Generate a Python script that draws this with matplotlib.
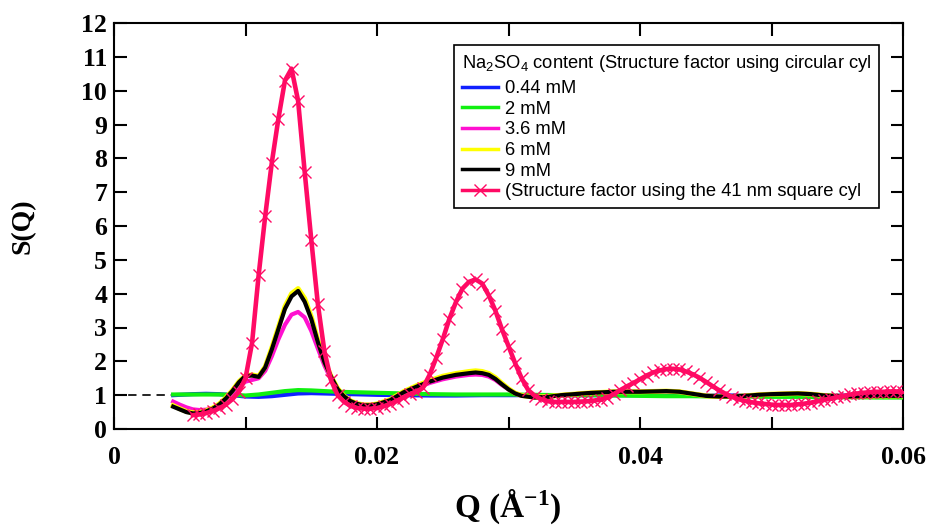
import matplotlib
matplotlib.use("Agg")
import matplotlib.pyplot as plt
import numpy as np

# ---------------- data ----------------
q_bg = [0.0045, 0.005, 0.006, 0.007, 0.008, 0.009, 0.010, 0.011, 0.012, 0.013,
        0.014, 0.015, 0.016, 0.017, 0.018, 0.019, 0.020, 0.022, 0.024, 0.026,
        0.028, 0.030, 0.032, 0.034, 0.036, 0.038, 0.040, 0.042, 0.044, 0.046,
        0.048, 0.050, 0.052, 0.054, 0.056, 0.058, 0.060]
s_044 = [1.00, 1.01, 1.03, 1.04, 1.03, 1.00, 0.96, 0.95, 0.97, 1.01,
         1.05, 1.06, 1.05, 1.04, 1.03, 1.02, 1.01, 1.00, 0.99, 0.99,
         1.00, 1.00, 1.00, 1.00, 1.00, 1.00, 1.00, 0.99, 0.99, 0.99,
         0.99, 0.99, 0.99, 0.99, 0.99, 0.99, 0.99]
s_2 = [1.02, 1.02, 1.02, 1.02, 1.02, 1.01, 0.99, 1.02, 1.07, 1.12,
       1.15, 1.14, 1.12, 1.10, 1.09, 1.08, 1.07, 1.05, 1.03, 1.02,
       1.02, 1.02, 1.01, 1.00, 1.00, 0.99, 0.98, 0.97, 0.97, 0.96,
       0.96, 0.95, 0.95, 0.94, 0.94, 0.93, 0.93]

q_exp = [0.0045, 0.0050, 0.0055, 0.0060, 0.0065, 0.0070, 0.0075, 0.0080, 0.0085, 0.0090,
         0.0095, 0.0100, 0.0105, 0.0110, 0.0115, 0.0120, 0.0125, 0.0130, 0.0135, 0.0140,
         0.0145, 0.0150, 0.0155, 0.0160, 0.0165, 0.0170, 0.0175, 0.0180, 0.0185, 0.0190,
         0.0195, 0.0200, 0.021, 0.022, 0.023, 0.024, 0.025, 0.026, 0.027, 0.0275,
         0.028, 0.0285, 0.029, 0.0295, 0.030, 0.0305, 0.031, 0.032, 0.033, 0.034,
         0.035, 0.036, 0.037, 0.038, 0.039, 0.040, 0.041, 0.042, 0.043, 0.044,
         0.045, 0.046, 0.047, 0.048, 0.049, 0.050, 0.051, 0.052, 0.053, 0.054,
         0.055, 0.056, 0.057, 0.058, 0.059, 0.060]
s_36 = [0.81, 0.72, 0.64, 0.58, 0.56, 0.57, 0.62, 0.72, 0.87, 1.05,
        1.25, 1.40, 1.45, 1.50, 1.72, 2.15, 2.65, 3.08, 3.38, 3.46,
        3.30, 2.90, 2.38, 1.88, 1.47, 1.16, 0.95, 0.82, 0.75, 0.72,
        0.72, 0.74, 0.86, 1.05, 1.22, 1.36, 1.47, 1.55, 1.60, 1.61,
        1.60, 1.55, 1.45, 1.30, 1.17, 1.06, 0.99, 0.95, 0.96, 1.00,
        1.03, 1.06, 1.08, 1.10, 1.10, 1.10, 1.11, 1.12, 1.10, 1.04,
        0.98, 0.96, 0.96, 0.98, 1.01, 1.03, 1.04, 1.05, 1.03, 0.99,
        0.97, 0.96, 0.97, 0.98, 0.98, 0.98]
s_6 = [0.69, 0.60, 0.52, 0.48, 0.49, 0.54, 0.62, 0.74, 0.92, 1.14,
       1.40, 1.58, 1.60, 1.56, 1.84, 2.40, 3.00, 3.62, 4.00, 4.15,
       3.86, 3.32, 2.62, 2.02, 1.56, 1.20, 0.97, 0.83, 0.75, 0.71,
       0.71, 0.74, 0.87, 1.10, 1.28, 1.43, 1.56, 1.64, 1.70, 1.72,
       1.70, 1.64, 1.52, 1.35, 1.19, 1.06, 0.99, 0.94, 0.96, 1.00,
       1.03, 1.06, 1.08, 1.10, 1.10, 1.10, 1.11, 1.12, 1.10, 1.04,
       0.98, 0.96, 0.96, 0.98, 1.01, 1.03, 1.04, 1.05, 1.03, 0.99,
       0.97, 0.96, 0.97, 0.98, 0.98, 0.98]
s_9 = [0.66, 0.58, 0.50, 0.46, 0.47, 0.52, 0.60, 0.72, 0.90, 1.12,
       1.38, 1.57, 1.58, 1.54, 1.82, 2.35, 2.95, 3.55, 3.92, 4.08,
       3.76, 3.25, 2.57, 1.98, 1.55, 1.18, 0.96, 0.82, 0.74, 0.70,
       0.70, 0.73, 0.85, 1.08, 1.25, 1.40, 1.52, 1.60, 1.65, 1.67,
       1.65, 1.60, 1.48, 1.32, 1.17, 1.05, 0.98, 0.93, 0.95, 1.00,
       1.03, 1.06, 1.08, 1.10, 1.10, 1.10, 1.11, 1.12, 1.10, 1.04,
       0.98, 0.96, 0.96, 0.98, 1.01, 1.03, 1.04, 1.05, 1.03, 0.99,
       0.97, 0.96, 0.97, 0.98, 0.98, 0.98]

q_sq = [0.0060, 0.0065, 0.0070, 0.0075, 0.0080, 0.0085, 0.0090, 0.0095, 0.0100, 0.0105,
        0.0110, 0.0115, 0.0120, 0.0125, 0.0130, 0.0135, 0.0140, 0.0145, 0.0150, 0.0155,
        0.0160, 0.0165, 0.0170, 0.0175, 0.0180, 0.0185, 0.0190, 0.0195, 0.0200, 0.0205,
        0.0210, 0.0215, 0.0220, 0.0225, 0.0230, 0.0235, 0.0240, 0.0245, 0.0250, 0.0255,
        0.0260, 0.0265, 0.0270, 0.0275, 0.0280, 0.0285, 0.0290, 0.0295, 0.0300, 0.0305,
        0.0310, 0.0315, 0.0320, 0.0325, 0.0330, 0.0335, 0.0340, 0.0345, 0.0350, 0.0355,
        0.0360, 0.0365, 0.0370, 0.0375, 0.0380, 0.0385, 0.0390, 0.0395, 0.0400, 0.0405,
        0.0410, 0.0415, 0.0420, 0.0425, 0.0430, 0.0435, 0.0440, 0.0445, 0.0450, 0.0455,
        0.0460, 0.0465, 0.0470, 0.0475, 0.0480, 0.0485, 0.0490, 0.0495, 0.0500, 0.0505,
        0.0510, 0.0515, 0.0520, 0.0525, 0.0530, 0.0535, 0.0540, 0.0545, 0.0550, 0.0555,
        0.0560, 0.0565, 0.0570, 0.0575, 0.0580, 0.0585, 0.0590, 0.0595, 0.0600]
s_sq = [0.41, 0.43, 0.47, 0.53, 0.61, 0.72, 0.88, 1.10, 1.50, 2.55,
        4.55, 6.30, 7.87, 9.17, 10.30, 10.65, 9.70, 7.60, 5.60, 3.70,
        2.30, 1.45, 1.00, 0.80, 0.68, 0.62, 0.60, 0.60, 0.62, 0.67,
        0.74, 0.83, 0.93, 1.03, 1.10, 1.22, 1.60, 2.10, 2.65, 3.25,
        3.75, 4.15, 4.35, 4.42, 4.30, 3.95, 3.50, 2.95, 2.45, 1.95,
        1.50, 1.15, 0.98, 0.88, 0.82, 0.80, 0.80, 0.80, 0.80, 0.81,
        0.82, 0.84, 0.87, 0.93, 1.03, 1.15, 1.26, 1.36, 1.47, 1.58,
        1.67, 1.73, 1.77, 1.78, 1.76, 1.70, 1.62, 1.52, 1.40, 1.27,
        1.15, 1.04, 0.95, 0.88, 0.83, 0.79, 0.76, 0.74, 0.72, 0.71,
        0.71, 0.71, 0.73, 0.75, 0.78, 0.82, 0.86, 0.90, 0.94, 0.98,
        1.02, 1.05, 1.07, 1.09, 1.10, 1.10, 1.11, 1.11, 1.10]

ref_q = [0.0, 0.0045]
ref_s = [1.0, 1.0]

labels = ["0.44 mM", "2 mM", "3.6 mM", "6 mM", "9 mM"]
legend_title = r"Na$\mathregular{_2}$SO$\mathregular{_4}$ content (Structure factor using circular cyl"
model_label = "(Structure factor using the 41 nm square cyl"

# ---------------- figure ----------------
plt.rcParams["mathtext.fontset"] = "custom"
plt.rcParams["mathtext.rm"] = "Liberation Sans"

W, H = 933, 528
fig = plt.figure(figsize=(W / 100, H / 100), dpi=100)
ax = fig.add_axes([114 / W, 1 - 429 / H, (903 - 114) / W, (429 - 23) / H])

ax.plot(ref_q, ref_s, color="black", lw=1.2, ls=(0, (5, 3.5)), zorder=1)
lw = 3.0
ax.plot(q_bg, s_044, color="#1020ff", lw=lw, label=labels[0], zorder=2)
ax.plot(q_bg, s_2, color="#10f010", lw=lw, label=labels[1], zorder=3)
ax.plot(q_exp, s_36, color="#ff10d0", lw=lw, label=labels[2], zorder=4)
ax.plot(q_exp, s_6, color="#ffff00", lw=lw + 0.6, label=labels[3], zorder=5)
ax.plot(q_exp, s_9, color="black", lw=lw, label=labels[4], zorder=6)
ax.plot(q_sq, s_sq, color="#ff0a64", lw=3.3, marker="x", ms=8, mew=1.0,
        label=model_label, zorder=7)

ax.set_xlim(0, 0.06)
ax.set_ylim(0, 12)
ax.set_xticks([0, 0.02, 0.04, 0.06])
ax.set_xticklabels(["0", "0.02", "0.04", "0.06"])
ax.set_xticks([0.01, 0.03, 0.05], minor=True)
ax.set_yticks(range(0, 13))

for lab in ax.get_xticklabels() + ax.get_yticklabels():
    lab.set_fontfamily("Liberation Serif")
    lab.set_fontweight("bold")
    lab.set_fontsize(18.5)

ax.tick_params(which="both", direction="in", top=True, right=True,
               length=9, width=1.5, color="black")
ax.tick_params(axis="x", which="both", pad=12)
ax.tick_params(axis="y", which="both", pad=5)
for sp in ax.spines.values():
    sp.set_linewidth(1.5)

fig.text(508 / W, 1 - 507 / H, r"Q (Å$\mathregular{^{-1}}$)", ha="center", va="center",
         family="Liberation Serif", weight="bold", fontsize=24)
fig.text(23 / W, 1 - 226 / H, "S(Q)", ha="center", va="center", rotation=90,
         family="Liberation Serif", weight="bold", fontsize=20)

leg = ax.legend(loc="upper left", bbox_to_anchor=((454 - 114) / 789, 1 - (45 - 23) / 406),
                title=legend_title, alignment="left",
                prop=dict(family="Liberation Sans", size=13.2),
                title_fontproperties=dict(family="Liberation Sans", size=13.2),
                frameon=True, fancybox=False, framealpha=1, edgecolor="black",
                borderpad=0.42, labelspacing=0.2, handlelength=2.0,
                handletextpad=0.35, borderaxespad=0, numpoints=1)
leg._legend_box.sep = 4.6
leg.get_frame().set_linewidth(1.2)
for h in leg.get_lines():
    h.set_linewidth(2.5)

fig.savefig("out.png", dpi=100)
